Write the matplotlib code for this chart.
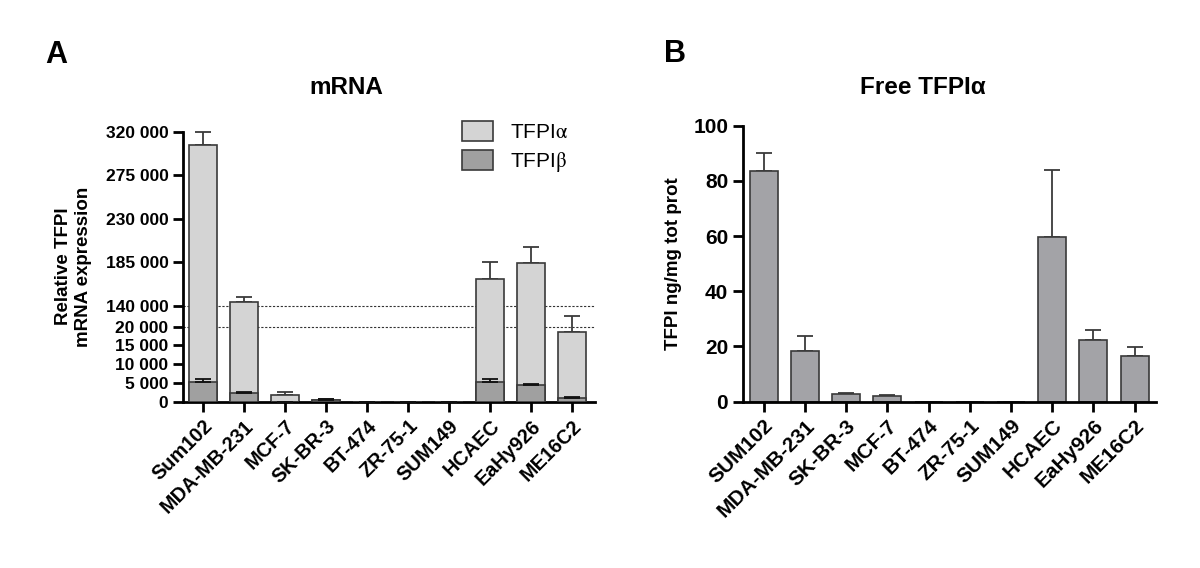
import matplotlib.pyplot as plt
import numpy as np

plt.rcParams['font.family'] = ['Liberation Sans', 'DejaVu Sans']
plt.rcParams['mathtext.fontset'] = 'stix'

# panel A - mRNA
cells_a = ['Sum102', 'MDA-MB-231', 'MCF-7', 'SK-BR-3', 'BT-474', 'ZR-75-1',
           'SUM149', 'HCAEC', 'EaHy926', 'ME16C2']
alpha_mean = [306000, 144000, 1800, 450, 0, 0, 0, 167300, 183800, 18600]
alpha_sd = [14700, 5300, 700, 350, 0, 0, 0, 18200, 17200, 62400]
beta_mean = [5300, 2300, 0, 400, 0, 0, 0, 5300, 4450, 1000]
beta_sd = [700, 200, 0, 300, 0, 0, 0, 700, 250, 300]
yticks_a = [0, 5000, 10000, 15000, 20000, 140000, 185000, 230000, 275000, 320000]

# panel B - free TFPIa
cells_b = ['SUM102', 'MDA-MB-231', 'SK-BR-3', 'MCF-7', 'BT-474', 'ZR-75-1',
           'SUM149', 'HCAEC', 'EaHy926', 'ME16C2']
free_mean = [83.7, 18.4, 2.8, 2.2, 0, 0, 0, 59.6, 22.4, 16.6]
free_sd = [6.5, 5.4, 0.2, 0.2, 0, 0, 0, 24.5, 3.6, 3.3]

# segmented y axis like graphpad (0-20k, 20k-140k squeezed, 140k-320k)
seg_val = [0, 20000, 140000, 320000]
seg_pos = [0, 75, 96, 270]


def fwd(y):
    return np.interp(y, seg_val, seg_pos)


def inv(p):
    return np.interp(p, seg_pos, seg_val)


light = '#d4d4d4'
dark = '#a0a0a0'
edge = '#3a3a3a'

fig = plt.figure(figsize=(12, 5.68), dpi=100)
ax1 = fig.add_axes([0.1525, 0.2928, 0.3435, 0.4754])
ax2 = fig.add_axes([0.619, 0.2928, 0.344, 0.4859])

x = np.arange(len(cells_a))
w = 0.68

ax1.set_yscale('function', functions=(fwd, inv))
ax1.bar(x, alpha_mean, w, color=light, edgecolor=edge, lw=1.2, zorder=2,
        label=r'TFPI$\mathrm{\alpha}$')
ax1.errorbar(x, alpha_mean, yerr=[np.zeros(len(x)), alpha_sd], fmt='none', ecolor=edge,
             elinewidth=1.3, capsize=6, capthick=1.3, zorder=1, clip_on=False)
ax1.bar(x, beta_mean, w, color=dark, edgecolor=edge, lw=1.2, zorder=3,
        label=r'TFPI$\mathrm{\beta}$')
ax1.errorbar(x, beta_mean, yerr=[np.zeros(len(x)), beta_sd], fmt='none', ecolor='#111111',
             elinewidth=1.3, capsize=6, capthick=1.3, zorder=4, clip_on=False)
for yv in [20000, 140000]:
    ax1.axhline(yv, color='#333333', ls=(0, (2, 1.5)), lw=0.8, zorder=0)
ax1.set_ylim(0, 320000)
ax1.set_xlim(-0.48, 9.56)
ax1.set_yticks(yticks_a)
ax1.set_yticklabels(['{:,}'.format(t).replace(',', ' ') for t in yticks_a])
ax1.set_xticks(x)
ax1.set_xticklabels(cells_a, rotation=45, ha='right', rotation_mode='anchor')
ax1.set_ylabel('Relative TFPI\nmRNA expression', fontsize=13.5, fontweight='bold', labelpad=10)
ax1.text(0.396, 1.165, 'mRNA', transform=ax1.transAxes, ha='center', va='center',
         fontsize=17.5, fontweight='bold')
leg = ax1.legend(loc='upper left', bbox_to_anchor=(0.631, 1.11), frameon=False, fontsize=15,
                 handlelength=1.5, handleheight=1.1, labelspacing=0.4, handletextpad=0.8)

ax2.bar(x, free_mean, w, color='#a3a3a7', edgecolor=edge, lw=1.2, zorder=2)
ax2.errorbar(x, free_mean, yerr=[np.zeros(len(x)), free_sd], fmt='none', ecolor=edge,
             elinewidth=1.3, capsize=6, capthick=1.3, zorder=1)
ax2.set_ylim(0, 100)
ax2.set_xlim(-0.51, 9.51)
ax2.set_yticks([0, 20, 40, 60, 80, 100])
ax2.set_xticks(x)
ax2.set_xticklabels(cells_b, rotation=45, ha='right', rotation_mode='anchor')
ax2.set_ylabel('TFPI ng/mg tot prot', fontsize=13.5, fontweight='bold', labelpad=8)
ax2.text(0.436, 1.14, 'Free TFPI\u03b1', transform=ax2.transAxes, ha='center', va='center',
         fontsize=17.5, fontweight='bold')

for ax in [ax1, ax2]:
    for s in ['top', 'right']:
        ax.spines[s].set_visible(False)
    for s in ['left', 'bottom']:
        ax.spines[s].set_linewidth(2)
    ax.tick_params(width=2, length=7, direction='out')

ax1.tick_params(axis='y', labelsize=12.5)
ax1.tick_params(axis='x', labelsize=14.3)
ax2.tick_params(axis='y', labelsize=15)
ax2.tick_params(axis='x', labelsize=15)
for ax in [ax1, ax2]:
    for lab in ax.get_xticklabels() + ax.get_yticklabels():
        lab.set_fontweight('bold')

fig.text(0.038, 0.889, 'A', fontsize=22, fontweight='bold')
fig.text(0.553, 0.891, 'B', fontsize=22, fontweight='bold')

fig.savefig('out.png', dpi=100)
